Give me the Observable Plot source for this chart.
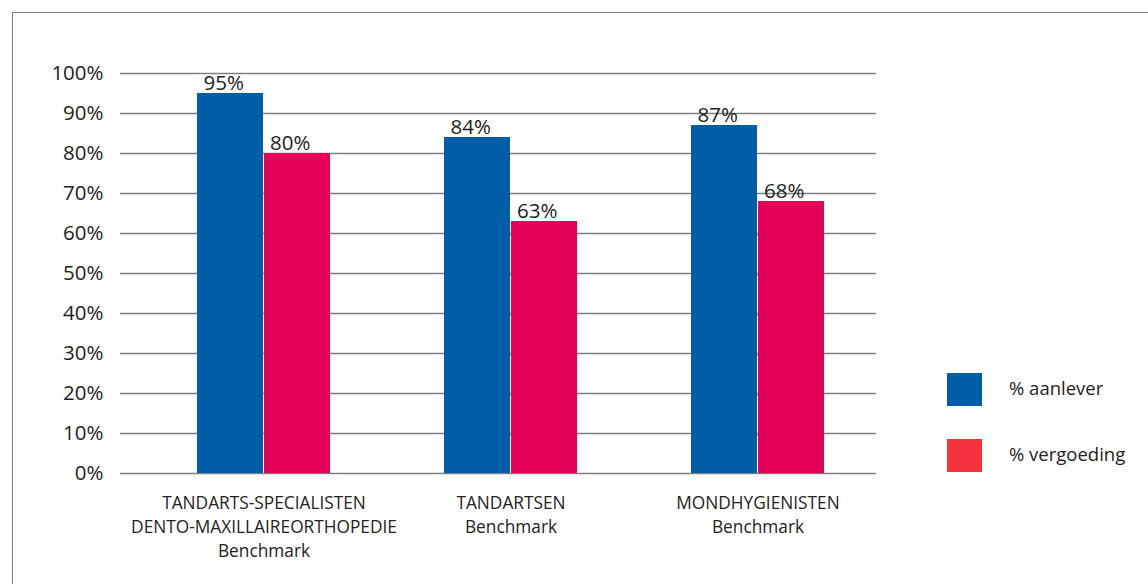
<!DOCTYPE html>
<html>
<head>
<meta charset="utf-8">
<script src="https://cdn.jsdelivr.net/npm/d3@7"></script>
<script src="https://cdn.jsdelivr.net/npm/@observablehq/plot@0.6"></script>
<style>
  html, body { margin: 0; padding: 0; background: #fff; overflow: hidden; width: 1148px; height: 584px; }
  body { position: relative; font-family: "Open Sans", "Noto Sans", sans-serif; color: #222; }
  #frame { position: absolute; left: 12px; top: 12px; width: 1200px; height: 640px; border: 1.5px solid #7a7a7a; box-sizing: border-box; }
  #chart { position: absolute; left: 0; top: 0; }
  .legend { position: absolute; left: 947px; font-size: 18.5px; color: #222; }
  .legend .item { position: absolute; left: 0; height: 33px; white-space: nowrap; }
  .legend .sw { position: absolute; left: 0; top: 0; width: 35px; height: 33px; }
  .legend .lbl { position: absolute; left: 62px; top: -2px; line-height: 33px; }
</style>
</head>
<body>
<div id="frame"></div>
<div id="chart"></div>
<div class="legend" id="legend"></div>
<script>
// Groups along the x axis (multi-line labels)
const categories = [
  "TANDARTS-SPECIALISTEN\nDENTO-MAXILLAIREORTHOPEDIE\nBenchmark",
  "TANDARTSEN\nBenchmark",
  "MONDHYGIENISTEN\nBenchmark"
];
// Series
const seriesNames = ["% aanlever", "% vergoeding"];
const aanlever = [95, 84, 87];
const vergoeding = [80, 63, 68];
// Y axis ticks
const yTicks = [0, 10, 20, 30, 40, 50, 60, 70, 80, 90, 100];

const blue = "#005ea8";
const magenta = "#e5005a";
const legendRed = "#f5333f";

const rowsA = categories.map((c, i) => ({category: c, series: seriesNames[0], value: aanlever[i]}));
const rowsV = categories.map((c, i) => ({category: c, series: seriesNames[1], value: vergoeding[i]}));

// Each group holds two adjacent bars
const groupWidth = 133;
const half = groupWidth / 2;

const chart = Plot.plot({
  width: 1148,
  height: 584,
  marginLeft: 120,
  marginRight: 272,
  marginTop: 73,
  marginBottom: 111,
  style: {fontFamily: "'Open Sans', 'Noto Sans', sans-serif", color: "#222", background: "transparent"},
  x: {domain: categories, range: [196.5, 824.5], paddingInner: 1 - groupWidth / 247.5, paddingOuter: 0},
  y: {domain: [0, 100]},
  marks: [
    Plot.ruleY(yTicks, {stroke: "#7f7f7f", strokeWidth: 1.5}),
    Plot.barY(rowsA, {x: "category", y: "value", fill: blue, insetRight: half + 0.5}),
    Plot.barY(rowsV, {x: "category", y: "value", fill: magenta, insetLeft: half + 0.5}),
    Plot.text(rowsA, {x: "category", y: "value", text: d => d.value + "%", dx: -half / 2 - 7, dy: -4, lineAnchor: "bottom", fontSize: 20.5, fill: "#222"}),
    Plot.text(rowsV, {x: "category", y: "value", text: d => d.value + "%", dx: half / 2 - 7, dy: -4, lineAnchor: "bottom", fontSize: 20.5, fill: "#222"}),
    Plot.axisY({ticks: yTicks, tickFormat: d => d + "%", tickSize: 0, tickPadding: 17, fontSize: 20.5, label: null, fill: "#222"}),
    Plot.axisX({tickSize: 0, tickPadding: 18, fontSize: 17.3, lineHeight: 1.39, label: null, fill: "#222"})
  ]
});
document.getElementById("chart").appendChild(chart);

// Legend
const legendColors = [blue, legendRed];
const legendTops = [373, 439];
const legend = document.getElementById("legend");
seriesNames.forEach((name, i) => {
  const item = document.createElement("div");
  item.className = "item";
  item.style.top = legendTops[i] + "px";
  const sw = document.createElement("div");
  sw.className = "sw";
  sw.style.background = legendColors[i];
  const lbl = document.createElement("div");
  lbl.className = "lbl";
  lbl.textContent = name;
  item.appendChild(sw);
  item.appendChild(lbl);
  legend.appendChild(item);
});
</script>
</body>
</html>
